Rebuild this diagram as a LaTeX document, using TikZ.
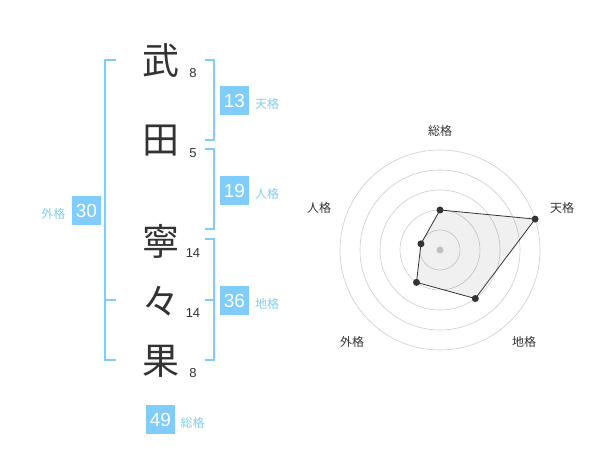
\documentclass[tikz,border=0pt]{standalone}
\usepackage{fontspec}
\setmainfont{Liberation Sans}
\newfontfamily\jp{Noto Sans CJK JP}
\definecolor{bl}{RGB}{128,204,250}
\definecolor{bltxt}{RGB}{130,205,245}
\definecolor{dk}{RGB}{51,51,51}
\definecolor{ring}{RGB}{204,204,204}
\begin{document}
\begin{tikzpicture}[x=1pt,y=-1pt,
  kanji/.style={font=\jp\fontsize{37}{37}\selectfont, text=dk, inner sep=0pt},
  strokes/.style={font=\fontsize{13}{13}\selectfont, text=dk, inner sep=0pt},
  valbox/.style={fill=bl, text=white, minimum width=29pt, minimum height=29pt, inner sep=0pt, font=\fontsize{19}{19}\selectfont},
  lbl/.style={font=\jp\fontsize{12}{12}\selectfont, text=bltxt, inner sep=0pt},
  brk/.style={draw=bl, line width=2pt},
  rlbl/.style={font=\jp\fontsize{12}{12}\selectfont, text=dk, inner sep=0pt},
  dot/.style={circle, fill=dk, minimum size=7pt, inner sep=0pt}]
\useasboundingbox (0,0) rectangle (600,470);
% kanji
\node[kanji] (k1) at (160.5,61) {武};
\node[kanji] (k2) at (160.5,141) {田};
\node[kanji] (k3) at (160.5,241) {寧};
\node[kanji] (k4) at (160.5,301) {々};
\node[kanji] (k5) at (160.5,361) {果};
% strokes
\node[strokes] (s1) at (193,73) {8};
\node[strokes] (s2) at (193,153) {5};
\node[strokes] (s3) at (193,253) {14};
\node[strokes] (s4) at (193,313) {14};
\node[strokes] (s5) at (193,373) {8};
% brackets
\coordinate (la) at (116,60); \coordinate (lb) at (105,60);
\coordinate (lc) at (105,360); \coordinate (ld) at (116,360);
\coordinate (lm1) at (105,300); \coordinate (lm2) at (116,300);
\draw[brk] (la) -- (lb) -- (lc) -- (ld);
\draw[brk] (lm1) -- (lm2);
\coordinate (ta) at (205,60); \coordinate (tb) at (214,60);
\coordinate (tc) at (214,140); \coordinate (td) at (205,140);
\draw[brk] (ta) -- (tb) -- (tc) -- (td);
\coordinate (ja) at (205,149.5); \coordinate (jb) at (214,149.5);
\coordinate (jc) at (214,229.5); \coordinate (jd) at (205,229.5);
\draw[brk] (ja) -- (jb) -- (jc) -- (jd);
\coordinate (ca) at (205,239.5); \coordinate (cb) at (214,239.5);
\coordinate (cc) at (214,360); \coordinate (cd) at (205,360);
\coordinate (cm1) at (205,300); \coordinate (cm2) at (214,300);
\draw[brk] (ca) -- (cb) -- (cc) -- (cd);
\draw[brk] (cm1) -- (cm2);
% value boxes
\node[valbox] (v13) at (234.5,100.5) {13};
\node[lbl, anchor=west] (t13) at (255,104) {天格};
\node[valbox] (v19) at (234.5,190.5) {19};
\node[lbl, anchor=west] (t19) at (255,194) {人格};
\node[valbox] (v30) at (86.5,210.5) {30};
\node[lbl, anchor=east] (t30) at (65.5,214) {外格};
\node[valbox] (v36) at (234.5,300.5) {36};
\node[lbl, anchor=west] (t36) at (255,304) {地格};
\node[valbox] (v49) at (160.5,419.5) {49};
\node[lbl, anchor=west] (t49) at (180.5,423) {総格};
% radar
\coordinate (O) at (440,250);
\foreach \r in {20,40,60,80,100} \draw[ring, line width=0.6pt] (O) circle (\r);
\fill[ring] (O) circle (3.5);
\coordinate (p1) at (440,210);
\coordinate (p2) at ({440+100*cos(18)},{250-100*sin(18)});
\coordinate (p3) at ({440+60*cos(-54)},{250-60*sin(-54)});
\coordinate (p4) at ({440+40*cos(-126)},{250-40*sin(-126)});
\coordinate (p5) at ({440+20*cos(162)},{250-20*sin(162)});
\filldraw[fill=black, fill opacity=0.06, draw=dk, line width=0.8pt] (p1) -- (p2) -- (p3) -- (p4) -- (p5) -- cycle;
\foreach \p in {p1,p2,p3,p4,p5} \node[dot] at (\p) {};
\node[rlbl] (r1) at (440,131) {総格};
\node[rlbl] (r2) at (562,208) {天格};
\node[rlbl] (r3) at (524,342) {地格};
\node[rlbl] (r4) at (352,342) {外格};
\node[rlbl] (r5) at (319,208) {人格};
\end{tikzpicture}
\end{document}
